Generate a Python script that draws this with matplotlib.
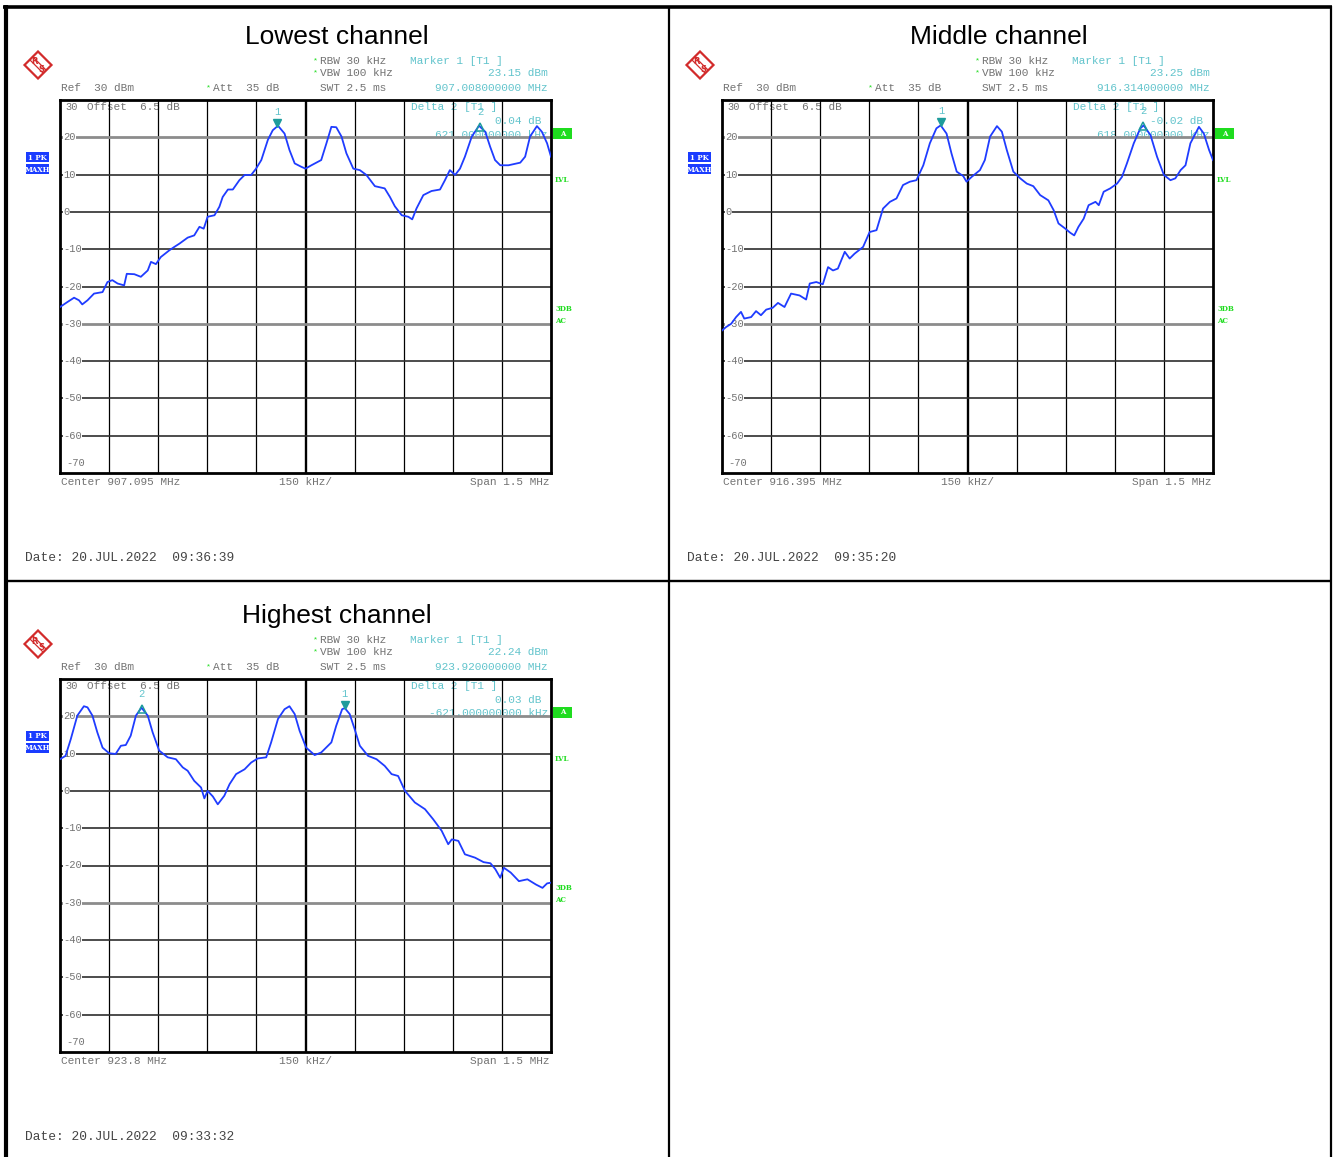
import matplotlib

matplotlib.use('Agg')

from matplotlib import pyplot as plt
from matplotlib.patches import Polygon, Rectangle

W, H = 1336, 1157

##### Trace data: frequency offset from centre (kHz) and max-hold level (dBm) #####

lowFreq = [-750, -728, -707, -692, -682, -666, -646, -620, -605, -590, -574, -554, -546, -523, -503,
           -482, -472, -457, -442, -416, -401, -385, -360, -340, -324, -311, -299, -278, -263, -253,
           -237, -222, -202, -186, -166, -151, -135, -115, -100, -84, -64, -49, -33, -13, 0,
           18, 48, 64, 79, 94, 110, 125, 146, 166, 186, 212, 242, 258, 273, 294,
           314, 326, 339, 360, 385, 411, 426, 441, 457, 472, 487, 508, 530, 549, 564,
           579, 595, 620, 656, 671, 686, 707, 722, 738, 750]
lowLevel = [-25.5, -24.2, -23.0, -23.7, -24.8, -23.7, -21.9, -21.5, -18.8, -18.3, -19.2, -19.7, -16.6, -16.7, -17.4,
            -15.7, -13.4, -14.0, -12.1, -10.3, -9.4, -8.5, -6.9, -6.3, -4.0, -4.5, -1.3, -0.9, 1.4, 4.0,
            6.0, 6.0, 8.5, 9.9, 9.9, 11.6, 13.9, 19.3, 21.9, 23.1, 21.0, 16.6, 13.0, 12.1, 11.6,
            12.5, 13.9, 18.4, 22.8, 22.7, 20.2, 15.7, 11.6, 11.2, 9.9, 6.9, 6.3, 4.0, 1.5, -0.9,
            -1.3, -2.0, 0.9, 4.5, 5.6, 6.0, 8.5, 11.2, 9.9, 11.6, 14.8, 20.2, 23.1, 21.5, 17.5,
            13.9, 12.5, 12.5, 13.2, 14.8, 20.2, 23.0, 21.5, 18.4, 14.8]

midFreq = [-750, -738, -722, -707, -692, -682, -661, -646, -631, -615, -595, -579, -559, -539, -513,
           -493, -482, -462, -442, -426, -411, -396, -375, -360, -345, -319, -299, -278, -258, -237,
           -217, -197, -176, -156, -135, -115, -95, -82, -64, -49, -33, -13, -3, 13, 38,
           53, 69, 90, 105, 120, 140, 161, 181, 201, 222, 247, 263, 278, 299, 314,
           326, 339, 355, 370, 391, 401, 416, 436, 457, 472, 487, 508, 528, 538, 559,
           579, 600, 620, 635, 651, 666, 681, 707, 722, 738, 750]
midLevel = [-31.8, -30.9, -30.0, -28.2, -26.8, -28.6, -28.2, -26.6, -27.7, -26.2, -25.7, -24.4, -25.5, -21.9, -22.4,
            -23.5, -19.2, -18.8, -19.4, -14.8, -15.7, -15.2, -10.7, -12.5, -11.2, -9.4, -5.4, -4.9, 0.9, 2.7,
            3.6, 7.2, 8.1, 8.5, 12.5, 18.4, 22.4, 23.2, 21.0, 15.7, 10.8, 9.6, 8.1, 9.4, 11.2,
            13.9, 20.2, 23.0, 21.5, 16.6, 10.8, 9.0, 7.6, 6.9, 4.5, 3.1, 0.5, -3.1, -4.5, -5.6,
            -6.3, -4.0, -1.8, 1.8, 2.7, 1.8, 5.4, 6.3, 7.6, 9.4, 13.0, 18.4, 22.4, 23.2, 20.6,
            14.8, 9.9, 8.5, 9.0, 11.2, 12.5, 18.4, 22.8, 21.0, 16.6, 13.9]

highFreq = [-750, -733, -717, -697, -677, -666, -651, -636, -620, -600, -580, -564, -549, -534, -518,
            -501, -482, -467, -447, -421, -396, -375, -360, -340, -319, -309, -299, -283, -268, -248,
            -232, -212, -186, -166, -146, -120, -105, -84, -64, -49, -33, -18, 2, 28, 48,
            79, 94, 112, 120, 135, 150, 166, 191, 217, 242, 263, 283, 304, 334, 365,
            390, 416, 436, 447, 467, 487, 518, 544, 565, 580, 595, 606, 627, 652, 678,
            704, 724, 738, 750]
highLevel = [8.5, 9.4, 13.9, 20.2, 22.7, 22.4, 20.2, 15.7, 11.6, 10.1, 9.9, 12.1, 12.3, 14.8, 20.2,
             22.3, 20.2, 15.7, 10.8, 9.0, 8.5, 6.3, 5.4, 2.7, 0.9, -2.0, 0.0, -1.5, -3.6, -1.3,
             1.8, 4.5, 5.8, 7.6, 8.7, 9.0, 13.0, 19.3, 21.9, 22.7, 20.6, 16.1, 11.6, 9.6, 10.3,
             13.0, 17.5, 21.9, 22.2, 20.6, 16.6, 12.1, 9.4, 8.5, 6.7, 4.5, 4.0, 0.0, -3.1, -4.9,
             -7.6, -10.7, -14.3, -13.0, -13.4, -17.0, -17.9, -19.1, -19.4, -21.0, -23.3, -20.6, -21.9, -24.2, -23.7,
             -25.1, -26.0, -24.8, -24.6]

titles = ['Lowest channel', 'Middle channel', 'Highest channel']
centerMHz = ['907.095', '916.395', '923.8']
marker1Level = [23.15, 23.25, 22.24]
marker1MHz = ['907.008000000', '916.314000000', '923.920000000']
deltaLevel = [0.04, -0.02, 0.03]
deltaKHz = [621.0, 618.0, -621.0]
dates = ['20.JUL.2022  09:36:39', '20.JUL.2022  09:35:20', '20.JUL.2022  09:33:32']
traces = [(lowFreq, lowLevel), (midFreq, midLevel), (highFreq, highLevel)]

# cell offsets (pixels) of each screenshot in the table
cellOffsets = [(0, 0), (662, 0), (0, 579)]

GRAY = '#737373'
CYAN = '#62c4cc'
TEAL = '#1e9c9c'
GREEN = '#1fdc1f'
BLUE = '#1f3cff'
MONO = 'Liberation Mono'

fig = plt.figure(figsize=(W / 100.0, H / 100.0), dpi=100)
ax0 = fig.add_axes([0, 0, 1, 1])
ax0.set_xlim(0, W)
ax0.set_ylim(H, 0)
ax0.axis('off')

##### Table borders #####
ax0.plot([3, 1332], [6.5, 6.5], color='black', lw=2.6, solid_capstyle='butt')
ax0.plot([5.5, 5.5], [5, H], color='black', lw=3.0, solid_capstyle='butt')
ax0.plot([668.5, 668.5], [6, H], color='black', lw=1.6, solid_capstyle='butt')
ax0.plot([5, 1332], [581, 581], color='black', lw=1.7, solid_capstyle='butt')
ax0.plot([1330.5, 1330.5], [6, H], color='black', lw=1.6, solid_capstyle='butt')


def txt(x, y, s, color=GRAY, size=8, ha='left', family=MONO, **kw):
	ax0.text(x, y, s, color=color, fontsize=size, ha=ha, va='center', family=family, **kw)


def draw_logo(cx, cy):
	s = 13.5
	ax0.add_patch(Polygon([(cx, cy - s), (cx + s, cy), (cx, cy + s), (cx - s, cy)], closed=True,
	                      facecolor='white', edgecolor='#d22b2b', lw=1.6, zorder=3))
	for off in (-1.5, 1.5):
		ax0.plot([cx - s / 2 + off, cx + s / 2 + off], [cy - s / 2 - off, cy + s / 2 - off],
		         color='#d22b2b', lw=0.9, zorder=3)
	ax0.text(cx - 3.5, cy - 3, 'R', color='#d22b2b', fontsize=6, fontweight='bold', ha='center', va='center', zorder=4)
	ax0.text(cx + 3.5, cy + 4, 'S', color='#d22b2b', fontsize=6, fontweight='bold', ha='center', va='center', zorder=4)


def box(x0, y0, w, h, color, label, tcolor='white'):
	ax0.add_patch(Rectangle((x0, y0), w, h, facecolor=color, edgecolor='none', zorder=3))
	ax0.text(x0 + w / 2, y0 + h / 2 + 0.5, label, color=tcolor, fontsize=5, fontweight='bold',
	         family='DejaVu Serif', ha='center', va='center', zorder=4)


for idx in range(3):
	dx, dy = cellOffsets[idx]
	freq, level = traces[idx]

	# header
	txt(337 + dx, 37 + dy, titles[idx], color='black', size=19, ha='center', family='Liberation Sans')
	draw_logo(38 + dx, 65 + dy)

	txt(313 + dx, 61 + dy, '*', color=GREEN, size=6)
	txt(320 + dx, 61 + dy, 'RBW 30 kHz')
	txt(313 + dx, 73 + dy, '*', color=GREEN, size=6)
	txt(320 + dx, 73 + dy, 'VBW 100 kHz')
	txt(410 + dx, 61 + dy, 'Marker 1 [T1 ]', color=CYAN)
	txt(548 + dx, 73 + dy, '%.2f dBm' % marker1Level[idx], color=CYAN, ha='right')
	txt(61 + dx, 88 + dy, 'Ref  30 dBm')
	txt(206 + dx, 88 + dy, '*', color=GREEN, size=6)
	txt(213 + dx, 88 + dy, 'Att  35 dB')
	txt(320 + dx, 88 + dy, 'SWT 2.5 ms')
	txt(548 + dx, 88 + dy, marker1MHz[idx] + ' MHz', color=CYAN, ha='right')

	# side annotations
	box(26 + dx, 152 + dy, 23, 10, '#1a3cff', '1 PK')
	box(26 + dx, 164 + dy, 23, 10, '#1a3cff', 'MAXH')
	box(553 + dx, 127.5 + dy, 19, 11, GREEN, 'A')
	txt(555 + dx, 180 + dy, 'LVL', color=GREEN, size=5, family='DejaVu Serif', fontweight='bold')
	txt(555 + dx, 309 + dy, '3DB', color=GREEN, size=5, family='DejaVu Serif', fontweight='bold')
	txt(555 + dx, 321 + dy, 'AC', color=GREEN, size=5, family='DejaVu Serif', fontweight='bold')

	# texts inside the graticule
	txt(87 + dx, 107 + dy, 'Offset  6.5 dB')
	txt(411 + dx, 107 + dy, 'Delta 2 [T1 ]', color=CYAN)
	txt(541 + dx, 121 + dy, '%.2f dB' % deltaLevel[idx], color=CYAN, ha='right')
	txt(548 + dx, 134.5 + dy, '%.9f kHz' % deltaKHz[idx], color=CYAN, ha='right')

	# footer
	txt(61 + dx, 482 + dy, 'Center %s MHz' % centerMHz[idx])
	txt(279 + dx, 482 + dy, '150 kHz/')
	txt(550 + dx, 482 + dy, 'Span 1.5 MHz', ha='right')
	txt(25 + dx, 558 + dy, 'Date: ' + dates[idx], color='#444444', size=9.3)

	##### Graticule #####
	x0, x1, y0, y1 = 60 + dx, 551 + dx, 100 + dy, 473 + dy
	ax = fig.add_axes([x0 / W, 1 - y1 / H, (x1 - x0) / W, (y1 - y0) / H])
	ax.set_facecolor('none')
	ax.set_xlim(-750, 750)
	ax.set_ylim(-70, 30)
	ax.set_xticks([])
	ax.set_yticks([])
	for sp in ax.spines.values():
		sp.set_linewidth(2.0)
		sp.set_color('black')

	for k in range(1, 10):
		xv = -750 + 150 * k
		ax.axvline(xv, color='black', lw=1.7 if k == 5 else 0.9, zorder=1)
	for lv in range(20, -70, -10):
		if lv in (20, -30):
			ax.axhline(lv, color='#8c8c8c', lw=2.0, zorder=1)
		else:
			ax.axhline(lv, color='#2e2e2e', lw=1.2, zorder=1)
		ax.text(-741, lv, '%d' % lv, color=GRAY, fontsize=7.5, family=MONO, ha='left', va='center', zorder=3,
		        bbox=dict(facecolor='white', edgecolor='none', pad=0.3))
	ax.text(-732, 28.1, '30', color=GRAY, fontsize=7.5, family=MONO, ha='left', va='center', zorder=3)
	ax.text(-732, -67.4, '-70', color=GRAY, fontsize=7.5, family=MONO, ha='left', va='center', zorder=3)

	ax.plot(freq, level, color=BLUE, lw=1.3, zorder=4)

	# markers: 1 = reference, 2 = delta marker
	cMHz = float(centerMHz[idx])
	m1 = (float(marker1MHz[idx]) - cMHz) * 1000.0
	m2 = m1 + deltaKHz[idx]
	ax.plot([m1], [marker1Level[idx] + 0.8], marker='v', color=TEAL, markersize=5.5, zorder=5)
	ax.plot([m2], [marker1Level[idx] + deltaLevel[idx] - 0.3], marker='^', markerfacecolor='none',
	        markeredgecolor=TEAL, markersize=5.5, mew=1.1, zorder=5)
	ax.text(m1, marker1Level[idx] + 3.7, '1', color=CYAN, fontsize=7.5, family=MONO, ha='center', va='center', zorder=5)
	ax.text(m2, marker1Level[idx] + 3.7, '2', color=CYAN, fontsize=7.5, family=MONO, ha='center', va='center', zorder=5)

plt.savefig('out.png', dpi=100)
